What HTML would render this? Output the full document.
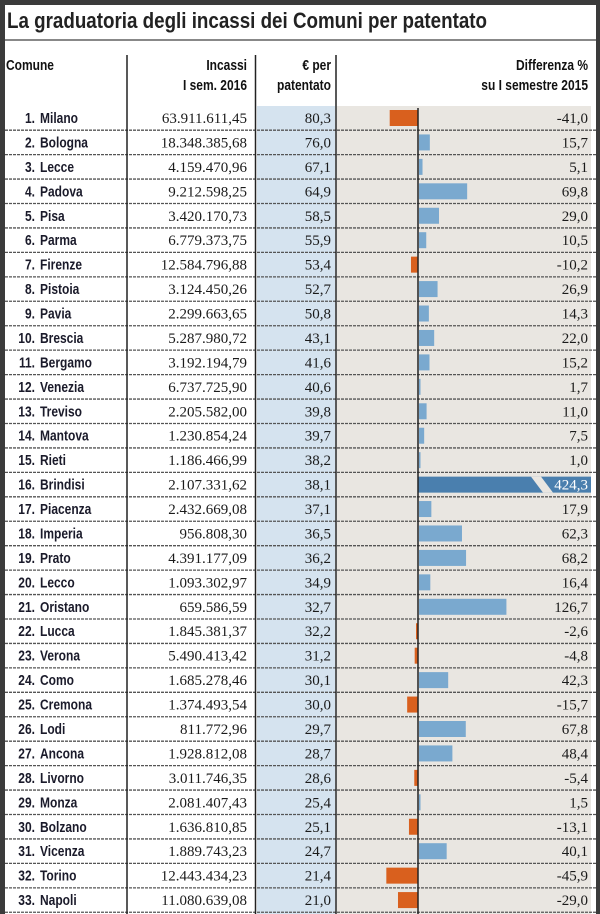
<!DOCTYPE html>
<html><head><meta charset="utf-8"><style>
body{margin:0;background:#3b3b3b;}
svg{display:block}
.n{font-family:"Liberation Sans",sans-serif;font-weight:bold;font-size:15px;fill:#1a1a2a}
.s{font-family:"Liberation Serif",serif;font-size:15px;fill:#1a1a1a;text-anchor:end}
.h{font-family:"Liberation Sans",sans-serif;font-weight:bold;font-size:15px;fill:#111}
</style></head><body>
<svg width="600" height="914" viewBox="0 0 600 914" xmlns="http://www.w3.org/2000/svg">
<rect x="0" y="0" width="600" height="914" fill="#3b3b3b"/>
<rect x="5" y="5" width="591" height="909" fill="#fff"/>
<text x="7" y="28" font-family="Liberation Sans, sans-serif" font-weight="bold" font-size="22" fill="#222" textLength="480" lengthAdjust="spacingAndGlyphs">La graduatoria degli incassi dei Comuni per patentato</text>
<rect x="5" y="39" width="591" height="2" fill="#888"/>
<rect x="257" y="106" width="78" height="808" fill="#d5e3ef"/>
<rect x="337" y="106" width="254" height="808" fill="#e9e6e1"/>
<g class="h">
<text transform="translate(6,70) scale(0.8,1)">Comune</text>
<text transform="translate(247,70) scale(0.8,1)" text-anchor="end">Incassi</text>
<text transform="translate(247,90) scale(0.8,1)" text-anchor="end">I sem. 2016</text>
<text transform="translate(331,70) scale(0.8,1)" text-anchor="end">€ per</text>
<text transform="translate(331,90) scale(0.8,1)" text-anchor="end">patentato</text>
<text transform="translate(588,70) scale(0.8,1)" text-anchor="end">Differenza %</text>
<text transform="translate(588,90) scale(0.8,1)" text-anchor="end">su I semestre 2015</text>
</g>
<g id="rows"></g>
<line x1="127" y1="55" x2="127" y2="914" stroke="#222" stroke-width="1.5"/>
<line x1="255.5" y1="55" x2="255.5" y2="914" stroke="#222" stroke-width="1.5"/>
<line x1="336" y1="55" x2="336" y2="914" stroke="#222" stroke-width="1.5"/>
<line x1="418" y1="108" x2="418" y2="914" stroke="#222" stroke-width="1.5"/>
</svg>
<script>
var d=[["Milano","63.911.611,45","80,3",-41.0,"-41,0"],["Bologna","18.348.385,68","76,0",15.7,"15,7"],["Lecce","4.159.470,96","67,1",5.1,"5,1"],["Padova","9.212.598,25","64,9",69.8,"69,8"],["Pisa","3.420.170,73","58,5",29.0,"29,0"],["Parma","6.779.373,75","55,9",10.5,"10,5"],["Firenze","12.584.796,88","53,4",-10.2,"-10,2"],["Pistoia","3.124.450,26","52,7",26.9,"26,9"],["Pavia","2.299.663,65","50,8",14.3,"14,3"],["Brescia","5.287.980,72","43,1",22.0,"22,0"],["Bergamo","3.192.194,79","41,6",15.2,"15,2"],["Venezia","6.737.725,90","40,6",1.7,"1,7"],["Treviso","2.205.582,00","39,8",11.0,"11,0"],["Mantova","1.230.854,24","39,7",7.5,"7,5"],["Rieti","1.186.466,99","38,2",1.0,"1,0"],["Brindisi","2.107.331,62","38,1",424.3,"424,3"],["Piacenza","2.432.669,08","37,1",17.9,"17,9"],["Imperia","956.808,30","36,5",62.3,"62,3"],["Prato","4.391.177,09","36,2",68.2,"68,2"],["Lecco","1.093.302,97","34,9",16.4,"16,4"],["Oristano","659.586,59","32,7",126.7,"126,7"],["Lucca","1.845.381,37","32,2",-2.6,"-2,6"],["Verona","5.490.413,42","31,2",-4.8,"-4,8"],["Como","1.685.278,46","30,1",42.3,"42,3"],["Cremona","1.374.493,54","30,0",-15.7,"-15,7"],["Lodi","811.772,96","29,7",67.8,"67,8"],["Ancona","1.928.812,08","28,7",48.4,"48,4"],["Livorno","3.011.746,35","28,6",-5.4,"-5,4"],["Monza","2.081.407,43","25,4",1.5,"1,5"],["Bolzano","1.636.810,85","25,1",-13.1,"-13,1"],["Vicenza","1.889.743,23","24,7",40.1,"40,1"],["Torino","12.443.434,23","21,4",-45.9,"-45,9"],["Napoli","11.080.639,08","21,0",-29.0,"-29,0"]];
var g=document.getElementById("rows"),h="";
d.forEach(function(r,i){var c=118+i*24.44,b=c+5;
 var v=r[3],k=0.69;
 if(i==15){h+='<polygon points="418,'+(c-8)+' 591,'+(c-8)+' 591,'+(c+8)+' 418,'+(c+8)+'" fill="#4a7fae"/><polygon points="531,'+(c-8)+' 541,'+(c-8)+' 553,'+(c+8)+' 543,'+(c+8)+'" fill="#e9e6e1"/>';}
 else if(v>=0){h+='<rect x="419" y="'+(c-8)+'" width="'+Math.max(1.5,v*k)+'" height="16" fill="#7aa9cf"/>';}
 else{var w=Math.max(2,-v*k);h+='<rect x="'+(418-w)+'" y="'+(c-8)+'" width="'+w+'" height="16" fill="#d9601e"/>';}
 h+='<text class="n" transform="translate(35,'+b+') scale(0.8,1)" text-anchor="end">'+(i+1)+'.</text><text class="n" transform="translate(40,'+b+') scale(0.8,1)">'+r[0]+'</text>';
 h+='<text class="s" x="247" y="'+b+'">'+r[1]+'</text><text class="s" x="331" y="'+b+'">'+r[2]+'</text>';
 h+='<text class="s" x="588" y="'+b+'"'+(i==15?' style="fill:#fff"':'')+'>'+r[4]+'</text>';
 h+='<line x1="5" y1="'+(c+12.2)+'" x2="596" y2="'+(c+12.2)+'" stroke="#555" stroke-width="1.3" stroke-dasharray="3,1"/>';
});
g.innerHTML=h;
</script>
</body></html>
